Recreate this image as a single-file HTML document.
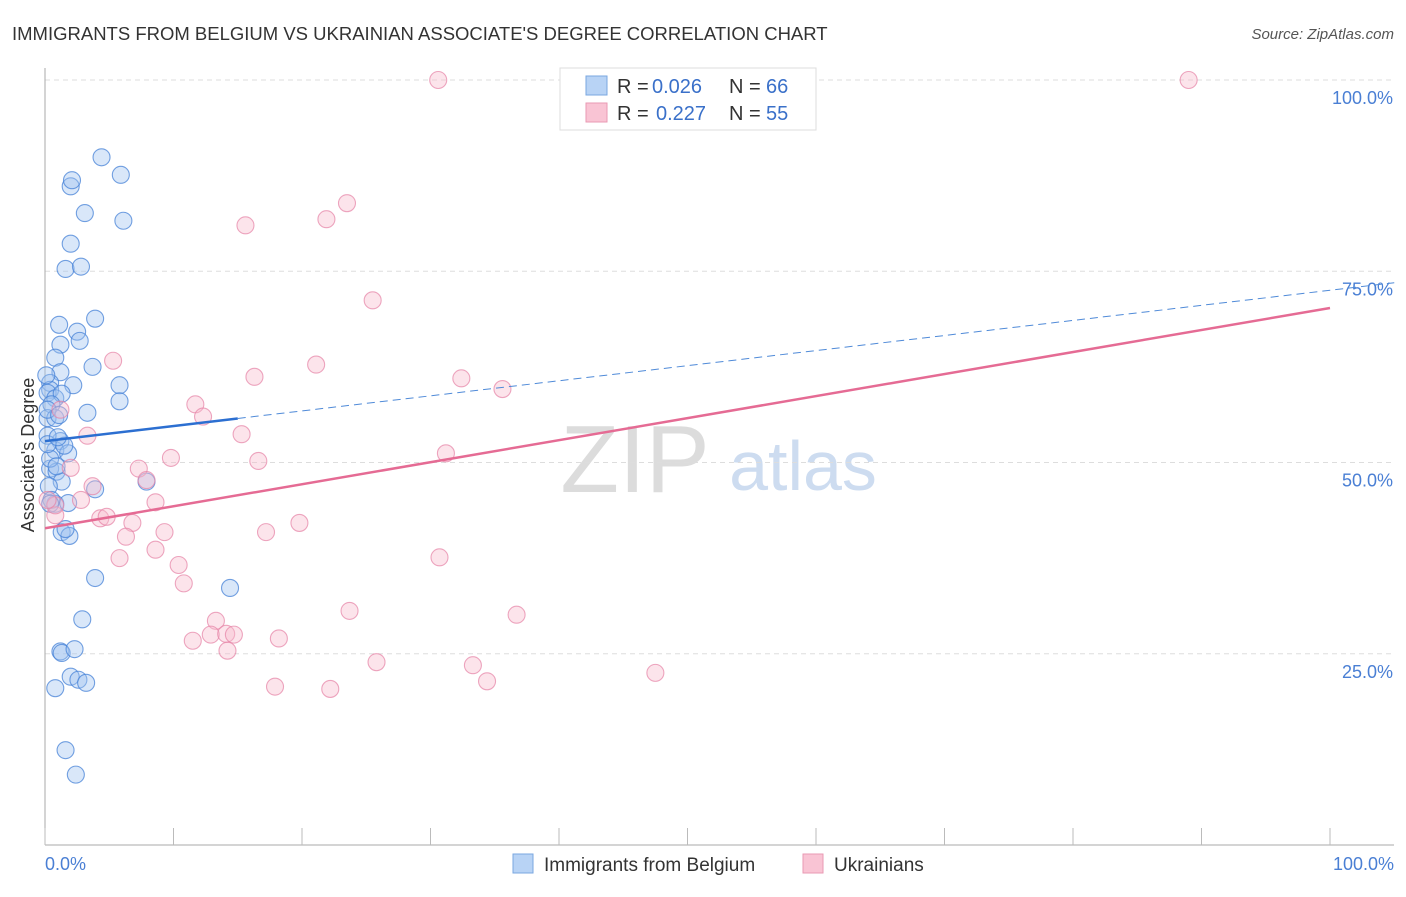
<!DOCTYPE html>
<html><head><meta charset="utf-8">
<style>
body{margin:0;background:#fff;font-family:"Liberation Sans",sans-serif;}
svg text{font-family:"Liberation Sans",sans-serif;}
</style></head>
<body>
<svg id="chart" width="1406" height="892" xmlns="http://www.w3.org/2000/svg">
<text x="12" y="40" font-size="18.5" fill="#333">IMMIGRANTS FROM BELGIUM VS UKRAINIAN ASSOCIATE'S DEGREE CORRELATION CHART</text>
<text x="1394" y="39" font-size="15" fill="#555" text-anchor="end" font-style="italic">Source: ZipAtlas.com</text>
<text x="635" y="492" font-size="96" fill="#dcdcdc" font-family="Liberation Serif" text-anchor="middle">ZIP</text>
<text x="803" y="490" font-size="70" fill="#cddcf0" text-anchor="middle">atlas</text>
<g id="grid"></g>
<g id="axes"></g>
<g id="pts"></g>
<g id="lines"></g>
<text transform="translate(34,455) rotate(-90)" font-size="18" fill="#333" text-anchor="middle">Associate's Degree</text>
<text x="45" y="870" font-size="18" fill="#4a7fd4">0.0%</text>
<text x="1394" y="870" font-size="18" fill="#4a7fd4" text-anchor="end">100.0%</text>
<g>
<rect x="560" y="68" width="256" height="62" fill="#fff" stroke="#ddd"/>
<rect x="586" y="76" width="21" height="19" fill="#b8d3f5" stroke="#7aa7e0"/>
<rect x="586" y="103" width="21" height="19" fill="#f9c4d4" stroke="#e99ab3"/>
<text x="617" y="93" font-size="20" fill="#333">R =</text>
<text x="652" y="93" font-size="20" fill="#3a70c9">0.026</text>
<text x="729" y="93" font-size="20" fill="#333">N =</text>
<text x="766" y="93" font-size="20" fill="#3a70c9">66</text>
<text x="617" y="120" font-size="20" fill="#333">R =</text>
<text x="656" y="120" font-size="20" fill="#3a70c9">0.227</text>
<text x="729" y="120" font-size="20" fill="#333">N =</text>
<text x="766" y="120" font-size="20" fill="#3a70c9">55</text>
</g>
<g>
<rect x="513" y="854" width="20" height="19" fill="#b8d3f5" stroke="#7aa7e0"/>
<text x="544" y="871" font-size="19" fill="#333">Immigrants from Belgium</text>
<rect x="803" y="854" width="20" height="19" fill="#f9c4d4" stroke="#e99ab3"/>
<text x="834" y="871" font-size="19" fill="#333">Ukrainians</text>
</g>
</svg>
<script>
const yTicks=[25,50,75,100];
const yTickLabels=["25.0%","50.0%","75.0%","100.0%"];
const xTicks=[0,10,20,30,40,50,60,70,80,90,100];
const belgiumX=[4.4,5.9,2,2.1,3.1,6.1,2,1.6,2.8,3.9,1.1,2.5,2.7,1.2,0.8,3.7,1.2,2.2,5.8,0.4,0.4,5.8,0.2,0.8,1.3,0.5,3.3,0.2,1.2,0.2,0.8,1.8,0.4,0.9,7.9,3.9,1.3,0.3,0.8,1.8,1.3,1.9,1.6,3.9,14.4,2.9,1.2,1.3,2.3,2,2.6,3.2,0.8,1.6,2.4,0.4,0.8,0.2,1.5,0.5,0.9,0.2,0.1,1,0.4,1.1];
const belgiumY=[89.9,87.6,86.1,86.9,82.6,81.6,78.6,75.3,75.6,68.8,68,67.1,65.9,65.4,63.7,62.5,61.8,60.1,60.1,60.4,59.5,58,59.1,58.4,59,57.6,56.5,55.8,52.8,53.5,51.6,51.2,49.2,48.8,47.5,46.5,47.5,46.9,44.6,44.7,40.9,40.4,41.3,34.9,33.6,29.5,25.3,25.1,25.6,22.0,21.6,21.2,20.5,12.4,9.2,50.5,55.8,52.4,52.2,45.1,49.5,56.9,61.4,53.3,44.6,56.2];
const ukrX=[30.6,89.0,23.5,21.9,15.6,25.5,5.3,21.1,16.3,32.4,35.6,11.7,12.3,15.3,3.3,1.2,31.2,16.6,7.3,9.8,7.9,3.7,2.8,8.6,0.8,4.3,4.8,6.8,9.3,19.8,17.2,6.3,8.6,5.8,30.7,10.4,10.8,23.7,36.7,13.3,12.9,14.1,14.7,11.5,18.2,14.2,25.8,33.3,47.5,34.4,17.9,22.2,0.8,2,0.2];
const ukrY=[100,100,83.9,81.8,81,71.2,63.3,62.8,61.2,61,59.6,57.6,56,53.7,53.5,56.9,51.2,50.2,49.2,50.6,47.7,46.9,45.1,44.8,43.1,42.7,42.9,42.1,40.9,42.1,40.9,40.3,38.6,37.5,37.6,36.6,34.2,30.6,30.1,29.3,27.5,27.6,27.5,26.7,27,25.4,23.9,23.5,22.5,21.4,20.7,20.4,44.4,49.3,45.1];
const blueTrend=[52.8,73.5], pinkTrend=[41.4,70.2];
const X=v=>45+v*12.85, Y=v=>845-v*7.65;
const NS="http://www.w3.org/2000/svg";
function mk(t,a,p){const e=document.createElementNS(NS,t);for(const k in a)e.setAttribute(k,a[k]);document.getElementById(p).appendChild(e);return e;}
yTicks.forEach((t,i)=>{
 const l=mk('line',{x1:45,x2:1394,y1:Y(t),y2:Y(t),stroke:'#ddd','stroke-dasharray':'5,4'},'grid');
 
 
 const tx=mk('text',{x:1393,y:Y(t)+24,'font-size':18,fill:'#4a7fd4','text-anchor':'end'},'grid');
 tx.textContent=yTickLabels[i];
 
 
});
let ax=mk('line',{x1:45,x2:45,y1:68,y2:845,stroke:'#aaa'},'axes');


ax=mk('line',{x1:45,x2:1394,y1:845,y2:845,stroke:'#aaa'},'axes');


xTicks.forEach(t=>{const e=mk('line',{x1:X(t),x2:X(t),y1:828,y2:845,stroke:'#bbb'},'axes');
 
 });
belgiumX.forEach((x,i)=>{const c=mk('circle',{cx:X(x),cy:Y(belgiumY[i]),r:8.5,fill:'rgba(160,196,240,0.4)',stroke:'rgba(70,130,215,0.75)','stroke-width':1.1},'pts');
 
 });
ukrX.forEach((x,i)=>{const c=mk('circle',{cx:X(x),cy:Y(ukrY[i]),r:8.5,fill:'rgba(248,188,206,0.4)',stroke:'rgba(230,130,165,0.7)','stroke-width':1.1},'pts');
 
 });
const bAt=x=>blueTrend[0]+(blueTrend[1]-blueTrend[0])*x/105;
let ln=mk('line',{x1:X(0),y1:Y(bAt(0)),x2:X(15),y2:Y(bAt(15)),stroke:'#2c6fd1','stroke-width':2.5},'lines');


ln=mk('line',{x1:X(15),y1:Y(bAt(15)),x2:X(105),y2:Y(bAt(105)),stroke:'#4f8ad8','stroke-width':1,'stroke-dasharray':'8,5'},'lines');


ln=mk('line',{x1:X(0),y1:Y(pinkTrend[0]),x2:X(100),y2:Y(pinkTrend[1]),stroke:'#e56b94','stroke-width':2.5},'lines');


</script>
</body></html>
